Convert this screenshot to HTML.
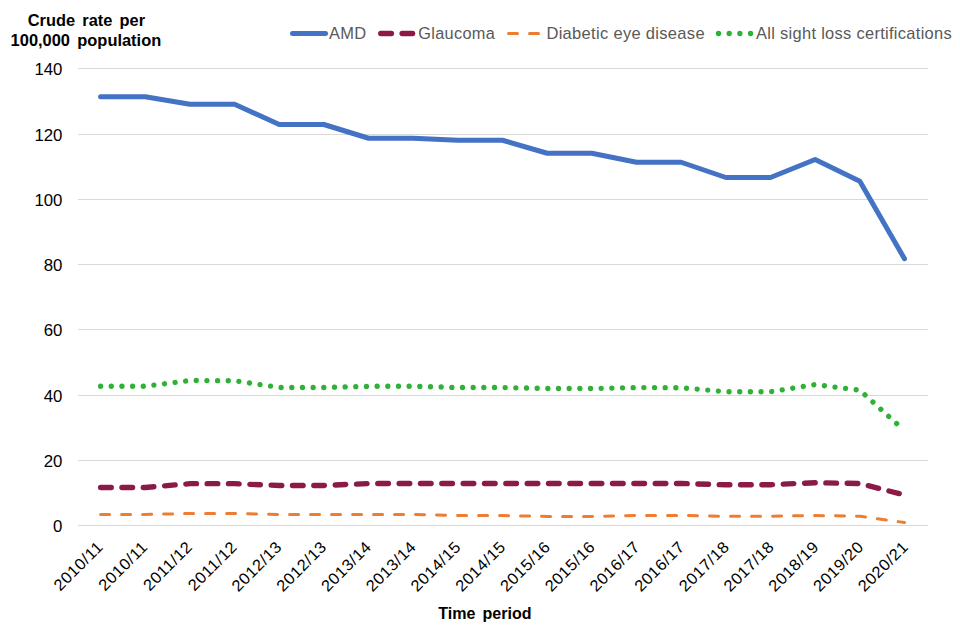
<!DOCTYPE html>
<html><head><meta charset="utf-8"><title>Chart</title>
<style>
html,body{margin:0;padding:0;background:#fff;}
body{width:960px;height:640px;overflow:hidden;font-family:"Liberation Sans",sans-serif;}
svg{display:block}
text{font-family:"Liberation Sans",sans-serif;font-size:16px;}
.b{font-weight:bold;fill:#000;word-spacing:2.7px}
.ax{fill:#000}
.rl{letter-spacing:0.5px}
.lg{fill:#595959;letter-spacing:0.3px}
</style></head><body>
<svg width="960" height="640" viewBox="0 0 960 640">
<rect width="960" height="640" fill="#fff"/>
<line x1="78.0" x2="928.0" y1="68.50" y2="68.50" stroke="#d9d9d9" stroke-width="1"/>
<line x1="78.0" x2="928.0" y1="134.50" y2="134.50" stroke="#d9d9d9" stroke-width="1"/>
<line x1="78.0" x2="928.0" y1="199.50" y2="199.50" stroke="#d9d9d9" stroke-width="1"/>
<line x1="78.0" x2="928.0" y1="264.50" y2="264.50" stroke="#d9d9d9" stroke-width="1"/>
<line x1="78.0" x2="928.0" y1="329.50" y2="329.50" stroke="#d9d9d9" stroke-width="1"/>
<line x1="78.0" x2="928.0" y1="395.50" y2="395.50" stroke="#d9d9d9" stroke-width="1"/>
<line x1="78.0" x2="928.0" y1="460.50" y2="460.50" stroke="#d9d9d9" stroke-width="1"/>
<line x1="78.0" x2="928.0" y1="525.50" y2="525.50" stroke="#d9d9d9" stroke-width="1"/>
<text class="ax" text-anchor="end" transform="translate(62.40,75.10) scale(1.0500,1)">140</text>
<text class="ax" text-anchor="end" transform="translate(62.40,141.10) scale(1.0500,1)">120</text>
<text class="ax" text-anchor="end" transform="translate(62.40,206.10) scale(1.0500,1)">100</text>
<text class="ax" text-anchor="end" transform="translate(62.40,271.10) scale(1.0500,1)">80</text>
<text class="ax" text-anchor="end" transform="translate(62.40,336.10) scale(1.0500,1)">60</text>
<text class="ax" text-anchor="end" transform="translate(62.40,402.10) scale(1.0500,1)">40</text>
<text class="ax" text-anchor="end" transform="translate(62.40,467.10) scale(1.0500,1)">20</text>
<text class="ax" text-anchor="end" transform="translate(62.40,532.10) scale(1.0500,1)">0</text>
<text class="b" text-anchor="middle" transform="translate(86.40,25.80) scale(1.0230,1)">Crude rate per</text>
<text class="b" text-anchor="middle" transform="translate(85.90,45.80) scale(1.0270,1)">100,000 population</text>
<text class="b" text-anchor="middle" transform="translate(484.90,618.60) scale(1.0040,1)">Time period</text>
<text class="ax rl" text-anchor="end" transform="translate(103.97,547.9) rotate(-45) scale(1.03,1)">2010/11</text>
<text class="ax rl" text-anchor="end" transform="translate(148.71,547.9) rotate(-45) scale(1.03,1)">2010/11</text>
<text class="ax rl" text-anchor="end" transform="translate(193.44,547.9) rotate(-45) scale(1.03,1)">2011/12</text>
<text class="ax rl" text-anchor="end" transform="translate(238.18,547.9) rotate(-45) scale(1.03,1)">2011/12</text>
<text class="ax rl" text-anchor="end" transform="translate(282.92,547.9) rotate(-45) scale(1.03,1)">2012/13</text>
<text class="ax rl" text-anchor="end" transform="translate(327.65,547.9) rotate(-45) scale(1.03,1)">2012/13</text>
<text class="ax rl" text-anchor="end" transform="translate(372.39,547.9) rotate(-45) scale(1.03,1)">2013/14</text>
<text class="ax rl" text-anchor="end" transform="translate(417.13,547.9) rotate(-45) scale(1.03,1)">2013/14</text>
<text class="ax rl" text-anchor="end" transform="translate(461.86,547.9) rotate(-45) scale(1.03,1)">2014/15</text>
<text class="ax rl" text-anchor="end" transform="translate(506.60,547.9) rotate(-45) scale(1.03,1)">2014/15</text>
<text class="ax rl" text-anchor="end" transform="translate(551.34,547.9) rotate(-45) scale(1.03,1)">2015/16</text>
<text class="ax rl" text-anchor="end" transform="translate(596.07,547.9) rotate(-45) scale(1.03,1)">2015/16</text>
<text class="ax rl" text-anchor="end" transform="translate(640.81,547.9) rotate(-45) scale(1.03,1)">2016/17</text>
<text class="ax rl" text-anchor="end" transform="translate(685.55,547.9) rotate(-45) scale(1.03,1)">2016/17</text>
<text class="ax rl" text-anchor="end" transform="translate(730.28,547.9) rotate(-45) scale(1.03,1)">2017/18</text>
<text class="ax rl" text-anchor="end" transform="translate(775.02,547.9) rotate(-45) scale(1.03,1)">2017/18</text>
<text class="ax rl" text-anchor="end" transform="translate(819.76,547.9) rotate(-45) scale(1.03,1)">2018/19</text>
<text class="ax rl" text-anchor="end" transform="translate(864.49,547.9) rotate(-45) scale(1.03,1)">2019/20</text>
<text class="ax rl" text-anchor="end" transform="translate(909.23,547.9) rotate(-45) scale(1.03,1)">2020/21</text>
<polyline fill="none" stroke="#4472c4" stroke-width="5" stroke-linecap="round" stroke-linejoin="round" points="100.60,96.75 145.26,96.75 189.92,104.25 234.58,104.25 279.24,124.50 323.90,124.50 368.56,138.25 413.22,138.25 457.88,140.25 502.54,140.25 547.20,153.25 591.86,153.25 636.52,162.25 681.18,162.25 725.84,177.50 770.50,177.50 815.16,159.50 859.82,181.25 904.48,258.75"/>
<polyline fill="none" stroke="#8b1a47" stroke-width="5.33" stroke-linecap="round" stroke-linejoin="round" stroke-dasharray="10.67 10.67" points="100.60,487.50 145.26,487.50 189.92,483.70 234.58,483.70 279.24,485.50 323.90,485.50 368.56,483.50 413.22,483.50 457.88,483.50 502.54,483.50 547.20,483.50 591.86,483.50 636.52,483.50 681.18,483.50 725.84,484.75 770.50,484.75 815.16,482.75 859.82,483.50 904.48,495.00"/>
<polyline fill="none" stroke="#ed7d31" stroke-width="3" stroke-linecap="round" stroke-linejoin="round" stroke-dasharray="9 12" points="100.60,514.50 145.26,514.50 189.92,513.50 234.58,513.50 279.24,514.50 323.90,514.50 368.56,514.50 413.22,514.50 457.88,515.50 502.54,515.50 547.20,516.50 591.86,516.50 636.52,515.50 681.18,515.50 725.84,516.25 770.50,516.25 815.16,515.50 859.82,516.25 904.48,522.50"/>
<polyline fill="none" stroke="#2eb135" stroke-width="5.33" stroke-linecap="round" stroke-linejoin="round" stroke-dasharray="0.01 10.66" points="100.60,386.25 145.26,386.25 189.92,380.50 234.58,380.75 279.24,387.50 323.90,387.50 368.56,386.25 413.22,386.25 457.88,387.50 502.54,387.50 547.20,388.50 591.86,388.50 636.52,387.50 681.18,387.75 725.84,391.75 770.50,391.75 815.16,384.60 859.82,390.20 899.00,425.73"/>
<line x1="292.5" x2="325.5" y1="33.5" y2="33.5" stroke="#4472c4" stroke-width="5" stroke-linecap="round"/>
<text class="lg" transform="translate(329.00,39.00) scale(1.0300,1)">AMD</text>
<line x1="380.75" x2="412.6" y1="33.5" y2="33.5" stroke="#8b1a47" stroke-width="5.33" stroke-linecap="round" stroke-dasharray="10.67 10.67"/>
<text class="lg" transform="translate(418.30,39.00) scale(1.0200,1)">Glaucoma</text>
<line x1="508.5" x2="538.5" y1="33.5" y2="33.5" stroke="#ed7d31" stroke-width="3" stroke-linecap="round" stroke-dasharray="9 12"/>
<text class="lg" transform="translate(546.40,39.00) scale(1.0320,1)">Diabetic eye disease</text>
<line x1="718.5" x2="751" y1="33.5" y2="33.5" stroke="#2eb135" stroke-width="5.33" stroke-linecap="round" stroke-dasharray="0.01 10.67"/>
<text class="lg" transform="translate(756.00,39.00) scale(1.0270,1)">All sight loss certifications</text>
</svg></body></html>
